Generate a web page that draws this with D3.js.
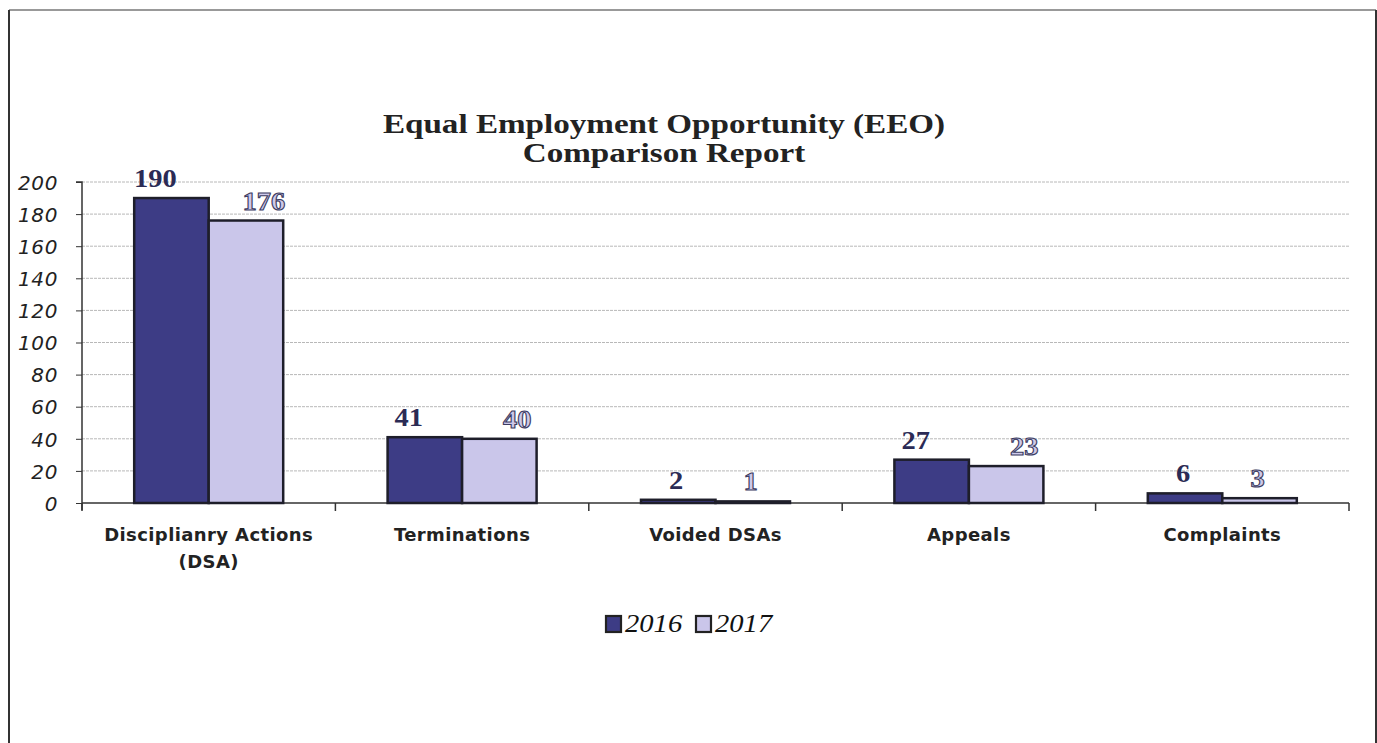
<!DOCTYPE html>
<html><head><meta charset="utf-8">
<script src="https://cdn.jsdelivr.net/npm/d3@7/dist/d3.min.js"></script>
<style>body{margin:0;background:#fff}svg{display:block}</style>
</head><body>
<svg id="c" width="1377" height="743"></svg>
<script>
const categories = ["Disciplianry Actions|(DSA)", "Terminations", "Voided DSAs", "Appeals", "Complaints"];
const seriesNames = ["2016", "2017"];
const values2016 = [190, 41, 2, 27, 6];
const values2017 = [176, 40, 1, 23, 3];
const yTicks = [0, 20, 40, 60, 80, 100, 120, 140, 160, 180, 200];
const titleLines = ["Equal Employment Opportunity (EEO)", "Comparison Report"];
const colors = ["#3d3c85", "#cac6ea"];

const svg = d3.select("#c");
// frame
svg.append("line").attr("x1",9).attr("x2",1376).attr("y1",10).attr("y2",10).attr("stroke","#999").attr("stroke-width",2);
svg.append("line").attr("x1",9).attr("x2",9).attr("y1",10).attr("y2",743).attr("stroke","#333").attr("stroke-width",2);
svg.append("line").attr("x1",1376).attr("x2",1376).attr("y1",10).attr("y2",743).attr("stroke","#333").attr("stroke-width",2);

// title
svg.append("g").attr("transform","translate(664,0) scale(1.25,1)")
  .selectAll("text").data(titleLines).join("text")
  .attr("x",0).attr("y",(d,i)=>133+i*29).attr("text-anchor","middle")
  .attr("font-family","Liberation Serif").attr("font-weight","bold").attr("font-size",26.5).attr("fill","#222")
  .text(d=>d);

const x0 = d3.scaleBand().domain(d3.range(categories.length)).range([82,1349]).paddingInner(0).paddingOuter(0);
const x1 = d3.scaleBand().domain(seriesNames).range([x0.bandwidth()/2-74.5, x0.bandwidth()/2+74.5]);
const y = d3.scaleLinear().domain([0,200]).range([503,182]);

// grid
svg.append("g").selectAll("line").data(yTicks.slice(1)).join("line")
  .attr("x1",82).attr("x2",1349).attr("y1",d=>y(d)).attr("y2",d=>y(d))
  .attr("stroke","#b8b8b8").attr("stroke-width",1).attr("stroke-dasharray","3,1");

// y axis
const ya = svg.append("g").attr("transform","translate(82,0)")
  .call(d3.axisLeft(y).tickValues(yTicks).tickSize(6).tickPadding(18));
ya.select(".domain").attr("stroke","#333").attr("stroke-width",1.5).attr("d","M-6,182H0V510");
ya.selectAll(".tick line").attr("stroke","#333");
ya.selectAll(".tick text").attr("font-family","DejaVu Sans").attr("font-style","italic")
  .attr("font-size",20).attr("fill","#222").attr("letter-spacing",0.6).attr("dy","0.36em");

// x axis line & ticks
svg.append("line").attr("x1",82).attr("x2",1349).attr("y1",503).attr("y2",503).attr("stroke","#333").attr("stroke-width",1.5);
svg.append("g").selectAll("line").data(d3.range(categories.length+1)).join("line")
  .attr("x1",d=>82+d*x0.step()).attr("x2",d=>82+d*x0.step()).attr("y1",503).attr("y2",511)
  .attr("stroke","#333").attr("stroke-width",1.5);

// bars
const data = categories.map((c,i)=>({i, vals:[values2016[i], values2017[i]]}));
const groups = svg.append("g").selectAll("g").data(data).join("g")
  .attr("transform",d=>`translate(${x0(d.i)},0)`);
groups.selectAll("rect").data(d=>d.vals.map((v,k)=>({v,k}))).join("rect")
  .attr("x",d=>x1(seriesNames[d.k])).attr("width",x1.bandwidth())
  .attr("y",d=>y(d.v)).attr("height",d=>y(0)-y(d.v))
  .attr("fill",d=>colors[d.k]).attr("stroke","#1e1e2a").attr("stroke-width",2.5);
groups.selectAll("g.v").data(d=>d.vals.map((v,k)=>({v,k}))).join("g").attr("class","v")
  .attr("transform",d=>{
    const off = d.v > 10 ? (d.k===0?-16:18) : -2;
    return `translate(${x1(seriesNames[d.k])+x1.bandwidth()/2+off},${y(d.v)-11}) scale(1.14,1)`;
  })
  .append("text")
  .attr("text-anchor","middle").attr("font-family","Liberation Serif").attr("font-weight","bold")
  .attr("font-size",25)
  .attr("fill",d=>d.k===0?"#2b2b55":"#cdc9ea")
  .attr("stroke",d=>d.k===0?"none":"#3c3c62").attr("stroke-width",1)
  .text(d=>d.v);

// category labels
svg.append("g").selectAll("text").data(categories).join("text")
  .attr("x",(d,i)=>x0(i)+x0.bandwidth()/2).attr("y",541)
  .attr("text-anchor","middle").attr("font-family","DejaVu Sans").attr("font-weight","bold")
  .attr("font-size",18).attr("fill","#222").attr("letter-spacing",0.4)
  .each(function(d){
    const parts=d.split("|");
    d3.select(this).selectAll("tspan").data(parts).join("tspan")
      .attr("x",this.getAttribute("x")).attr("dy",(p,j)=>j===0?0:27).text(p=>p);
  });

// legend
const lg = svg.append("g").attr("transform","translate(606,615)");
seriesNames.forEach((s,k)=>{
  const gx = k*90;
  lg.append("rect").attr("x",gx).attr("y",1).attr("width",15).attr("height",16)
    .attr("fill",colors[k]).attr("stroke","#222").attr("stroke-width",2.2);
  lg.append("g").attr("transform",`translate(${gx+19},17) scale(1.1,1)`)
    .append("text").attr("font-family","Liberation Serif")
    .attr("font-style","italic").attr("font-size",26).attr("fill","#111").text(s);
});
</script>
</body></html>
